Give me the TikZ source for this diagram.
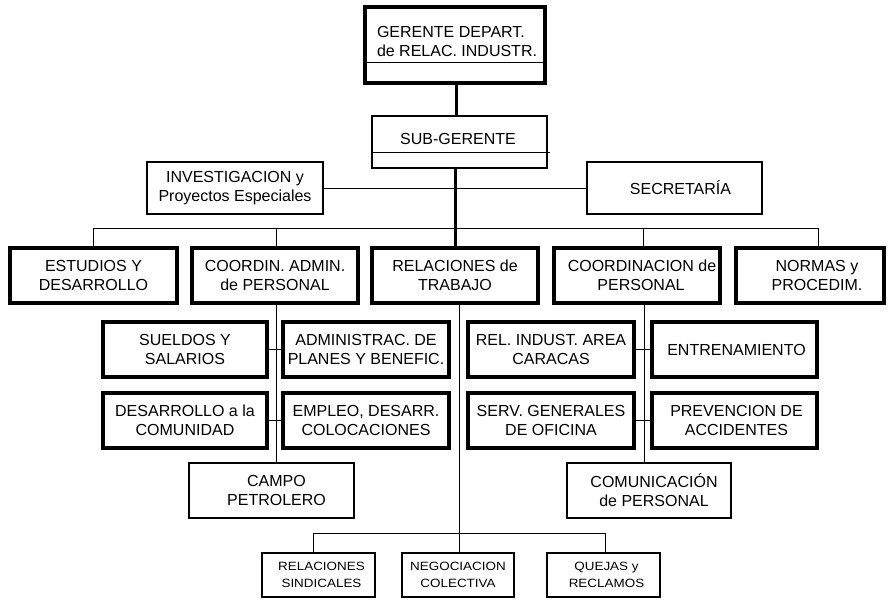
\documentclass[tikz,border=0pt]{standalone}
\usepackage{fontspec}
\setmainfont{Liberation Sans}
\newfontfamily\widesans[FakeStretch=1.12]{Liberation Sans}
\begin{document}
\begin{tikzpicture}[x=1pt,y=-1pt,
  every node/.style={font=\fontsize{16}{19}\selectfont, align=center, inner sep=0pt, outer sep=0pt},
  heavybox/.style={draw, line width=3.3pt, minimum height=55pt},
  lightbox/.style={draw, line width=1.3pt, minimum height=55pt},
  smallbox/.style={draw, line width=1.3pt, minimum width=113pt, minimum height=44pt,
    font=\widesans\fontsize{12}{17}\selectfont},
  link/.style={line width=1pt},
  trunk/.style={line width=3pt}]
\useasboundingbox (0,0) rectangle (891,600);

% management boxes
\node[draw, line width=3.3pt, minimum width=180pt, minimum height=76pt] (top) at (455,45) {};
\node[anchor=west, align=left] (toptext) at (377,41) {GERENTE DEPART.\\de RELAC. INDUSTR.};
\draw[line width=1pt] (top.west |- 0,62) -- (546,62);

\node[lightbox, minimum width=175pt, minimum height=52pt] (sub) at (459.5,142) {};
\node (subtext) at (458,139) {SUB-GERENTE};
\draw[line width=1pt] (sub.west |- 0,152) -- (550,152);

% staff boxes
\node[lightbox, minimum width=176pt, minimum height=52pt] (inv) at (235,188) {INVESTIGACION y\\Proyectos Especiales};
\node[lightbox, minimum width=175pt, minimum height=52pt] (sec) at (674.5,188) {\hspace*{12pt}SECRETARÍA};
\draw[link] (inv.east) -- (sec.west);

% departments
\node[heavybox, minimum width=167pt] (estudios) at (93.5,275.5) {ESTUDIOS Y\\DESARROLLO};
\node[heavybox, minimum width=166pt] (coordadm) at (275,275.5) {COORDIN. ADMIN.\\de PERSONAL};
\node[heavybox, minimum width=166pt] (reltrab) at (455,275.5) {RELACIONES de\\TRABAJO};
\node[heavybox, minimum width=166pt] (coordper) at (637,275.5) {\hspace*{10pt}COORDINACION de\\\hspace*{8pt}PERSONAL};
\node[heavybox, minimum width=148pt] (normas) at (810,275.5) {\hspace*{14pt}NORMAS y\\\hspace*{14pt}PROCEDIM.};

% chain of command
\draw[trunk] (top.south -| 456,0) -- (sub.north -| 456,0);
\draw[trunk] (reltrab.north |- sub.south) -- (reltrab.north);

\coordinate (bus) at (0,228);
\draw[link] (estudios.north) |- ([xshift=8pt]normas.north |- bus) -- ([xshift=8pt]normas.north);
\draw[link] ([xshift=1pt]coordadm.north) -- ([xshift=1pt]coordadm.north |- bus);
\draw[link] ([xshift=6pt]coordper.north) -- ([xshift=6pt]coordper.north |- bus);

% sections under COORDIN. ADMIN.
\node[heavybox, minimum width=164pt] (sueldos) at (185,349.5) {SUELDOS Y\\SALARIOS};
\node[heavybox, minimum width=166pt] (admin) at (366,349.5) {ADMINISTRAC. DE\\PLANES Y BENEFIC.};
\node[heavybox, minimum width=164pt] (desarr) at (185,420.5) {DESARROLLO a la\\COMUNIDAD};
\node[heavybox, minimum width=166pt] (empleo) at (366,420.5) {EMPLEO, DESARR.\\COLOCACIONES};
\node[lightbox, minimum width=165pt] (campo) at (271.5,490.5) {\hspace*{10pt}CAMPO\\\hspace*{10pt}PETROLERO};

\draw[link] ([xshift=1pt]coordadm.south) -- ([xshift=1pt]coordadm.south |- campo.north);
\draw[link] (sueldos.east) -- (admin.west);
\draw[link] (desarr.east) -- (empleo.west);

% sections under COORDINACION de PERSONAL
\node[heavybox, minimum width=166pt] (relcar) at (551,349.5) {REL. INDUST. AREA\\CARACAS};
\node[heavybox, minimum width=165pt] (entren) at (734.5,349.5) {\hspace*{4pt}ENTRENAMIENTO};
\node[heavybox, minimum width=166pt] (serv) at (551,420.5) {SERV. GENERALES\\DE OFICINA};
\node[heavybox, minimum width=165pt] (prev) at (734.5,420.5) {\hspace*{4pt}PREVENCION DE\\\hspace*{4pt}ACCIDENTES};
\node[lightbox, minimum width=164pt] (comun) at (649,490.5) {\hspace*{10pt}COMUNICACIÓN\\\hspace*{10pt}de PERSONAL};

\draw[link] ([xshift=7pt]coordper.south) -- ([xshift=7pt]coordper.south |- comun.north);
\draw[link] (relcar.east) -- (entren.west);
\draw[link] (serv.east) -- (prev.west);

% sections under RELACIONES de TRABAJO
\node[smallbox] (rsind) at (318.5,575) {\hspace*{6pt}RELACIONES\\\hspace*{6pt}SINDICALES};
\node[smallbox, minimum width=112pt] (negoc) at (458,575) {NEGOCIACION\\COLECTIVA};
\node[smallbox] (quejas) at (603.5,575) {\hspace*{6pt}QUEJAS y\\\hspace*{6pt}RECLAMOS};

\coordinate (lowbus) at (0,533);
\draw[link] ([xshift=4pt]reltrab.south) -- ([xshift=4pt]reltrab.south |- lowbus);
\draw[link] ([xshift=-5.5pt]rsind.north) |- ([xshift=1.5pt]quejas.north |- lowbus) -- ([xshift=1.5pt]quejas.north);
\draw[link] ([xshift=1pt]negoc.north) -- ([xshift=1pt]negoc.north |- lowbus);
\end{tikzpicture}
\end{document}
